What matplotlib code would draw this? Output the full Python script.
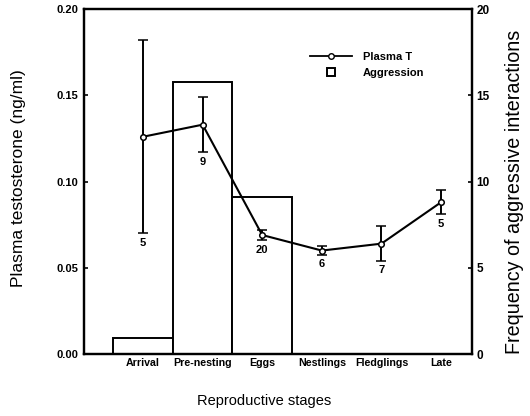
import numpy as np
import matplotlib
matplotlib.use("Agg")
import matplotlib.pyplot as plt

plt.rcParams['font.family'] = ['Liberation Sans', 'DejaVu Sans']

stages = ["Arrival", "Pre-nesting", "Eggs", "Nestlings", "Fledglings", "Late"]
plasma_t = [0.126, 0.133, 0.069, 0.060, 0.064, 0.088]
plasma_err = [0.056, 0.016, 0.003, 0.0025, 0.010, 0.007]
n_birds = ["5", "9", "20", "6", "7", "5"]
aggression = [0.9, 15.8, 9.1, 0, 0, 0]

x = np.arange(len(stages))

fig = plt.figure(figsize=(5.30, 4.16), dpi=100)
ax = fig.add_axes([0.1585, 0.149, 0.7321, 0.829])
ax2 = ax.twinx()

# bars on the right axis, line on top
ax2.bar(x, aggression, width=1.0, facecolor="white", edgecolor="black", linewidth=1.4)
ax.set_zorder(ax2.get_zorder() + 1)
ax.patch.set_visible(False)

ax.errorbar(x, plasma_t, yerr=plasma_err, color="black", lw=1.5, marker="o",
            ms=4, mfc="white", mec="black", mew=1.1, capsize=3.5, capthick=1.2,
            elinewidth=1.4)

# sample sizes below each point
for xi, yi, ei, n in zip(x, plasma_t, plasma_err, n_birds):
    ax.text(xi, yi - ei - 0.0025, n, ha="center", va="top", fontsize=8,
            fontweight="bold")

ax.set_xlim(-0.99, 5.52)
ax.set_ylim(0, 0.20)
ax2.set_ylim(0, 20)
ax.set_yticks([0, 0.05, 0.10, 0.15, 0.20])
ax.set_yticklabels(["0.00", "0.05", "0.10", "0.15", "0.20"])
ax2.set_yticks([0, 5, 10, 15, 20])
ax.set_xticks(x)
ax.set_xticklabels(stages)

for a in (ax, ax2):
    for s in a.spines.values():
        s.set_linewidth(1.6)
    a.tick_params(width=1.2, length=3, direction="in")
ax.tick_params(axis="y", labelsize=8, pad=4)
ax2.tick_params(axis="y", labelsize=8.5, pad=3)
ax.tick_params(axis="x", length=0, pad=3, labelsize=7.7)
for lab in ax.get_yticklabels() + ax2.get_yticklabels() + ax.get_xticklabels():
    lab.set_fontweight("bold")

ax.set_ylabel("Plasma testosterone (ng/ml)", fontsize=12.5)
ax2.set_ylabel("Frequency of aggressive interactions", fontsize=14.2)
ax.set_xlabel("Reproductive stages", fontsize=10.5)
ax.yaxis.set_label_coords(-0.15, 0.51)
ax2.yaxis.set_label_coords(1.085, 0.47)
ax.xaxis.set_label_coords(0.464, -0.115)

# legend
leg_line, = ax.plot([], [], color="black", lw=1.3, marker="o", ms=4, mfc="white", mec="black")
leg_box, = ax.plot([], [], ls="none", marker="s", ms=6, mfc="white", mec="black", mew=1.4)
ax.legend([leg_line, leg_box], ["Plasma T", "Aggression"], loc="center left",
          bbox_to_anchor=(0.567, 0.838), frameon=False, borderpad=0,
          handlelength=3.8, handletextpad=1.0, labelspacing=0.55,
          prop={"weight": "bold", "size": 8})

fig.savefig("out.png", dpi=100)
